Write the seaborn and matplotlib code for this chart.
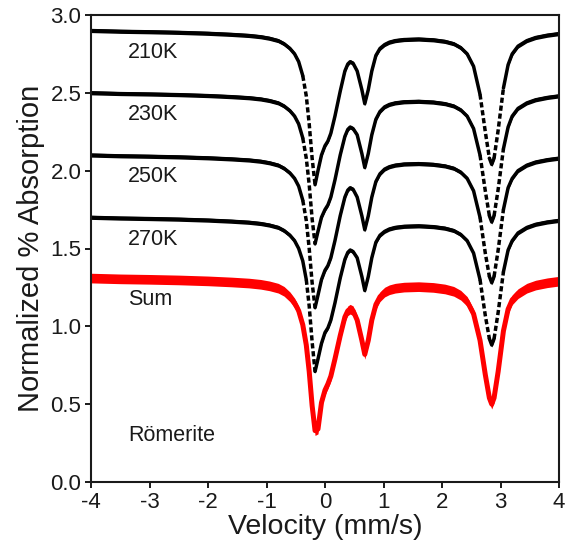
import numpy as np
import pandas as pd
import matplotlib
matplotlib.use("Agg")
import matplotlib.pyplot as plt
import seaborn as sns

# ---------------- data ----------------
velocity = [-4.0, -3.5, -3.0, -2.5, -2.0, -1.6, -1.3, -1.1, -0.95, -0.8,
            -0.7, -0.6, -0.52, -0.45, -0.38, -0.32, -0.27, -0.22, -0.17, -0.12,
            -0.06, 0.0, 0.05, 0.10, 0.17, 0.26, 0.34, 0.39, 0.43, 0.48,
            0.55, 0.63, 0.68, 0.74, 0.80, 0.87, 0.94, 1.02, 1.1, 1.2,
            1.35, 1.6, 1.85, 2.05, 2.2, 2.32, 2.43, 2.54, 2.65, 2.74,
            2.81, 2.85, 2.89, 2.96, 3.05, 3.13, 3.2, 3.3, 3.45, 3.6,
            3.8, 4.0]

series_names = ["210K", "230K", "250K", "270K", "Sum"]
series_offsets = [2.90, 2.50, 2.10, 1.70, 1.31]

depth_210K = [0.0, 0.005, 0.008, 0.012, 0.018, 0.025, 0.032, 0.04, 0.05, 0.065,
              0.085, 0.115, 0.15, 0.20, 0.29, 0.42, 0.60, 0.82, 0.99, 0.90,
              0.80, 0.74, 0.71, 0.66, 0.55, 0.39, 0.26, 0.215, 0.20, 0.21,
              0.26, 0.38, 0.47, 0.38, 0.26, 0.16, 0.115, 0.09, 0.075, 0.065,
              0.058, 0.055, 0.06, 0.07, 0.085, 0.11, 0.15, 0.23, 0.41, 0.65,
              0.82, 0.86, 0.82, 0.64, 0.37, 0.22, 0.15, 0.10, 0.065, 0.045,
              0.03, 0.02]
depth_230K = [0.0, 0.005, 0.008, 0.012, 0.018, 0.025, 0.032, 0.04, 0.05, 0.065,
              0.085, 0.115, 0.15, 0.20, 0.29, 0.42, 0.59, 0.81, 0.97, 0.89,
              0.80, 0.75, 0.72, 0.67, 0.56, 0.40, 0.28, 0.235, 0.22, 0.23,
              0.27, 0.39, 0.48, 0.39, 0.27, 0.17, 0.12, 0.09, 0.075, 0.065,
              0.058, 0.055, 0.06, 0.07, 0.085, 0.11, 0.15, 0.23, 0.40, 0.63,
              0.79, 0.83, 0.79, 0.62, 0.36, 0.22, 0.15, 0.10, 0.065, 0.045,
              0.03, 0.02]
depth_250K = [0.0, 0.005, 0.008, 0.012, 0.018, 0.025, 0.032, 0.04, 0.05, 0.065,
              0.085, 0.115, 0.15, 0.20, 0.29, 0.42, 0.60, 0.82, 0.98, 0.90,
              0.80, 0.74, 0.71, 0.66, 0.55, 0.39, 0.27, 0.225, 0.21, 0.22,
              0.27, 0.39, 0.48, 0.39, 0.27, 0.17, 0.12, 0.09, 0.075, 0.065,
              0.058, 0.055, 0.06, 0.07, 0.085, 0.11, 0.15, 0.23, 0.40, 0.63,
              0.78, 0.82, 0.78, 0.61, 0.35, 0.21, 0.15, 0.10, 0.065, 0.045,
              0.03, 0.02]
depth_270K = [0.0, 0.005, 0.008, 0.012, 0.018, 0.025, 0.032, 0.04, 0.05, 0.065,
              0.085, 0.115, 0.15, 0.20, 0.28, 0.40, 0.57, 0.80, 0.99, 0.91,
              0.81, 0.74, 0.71, 0.66, 0.55, 0.39, 0.27, 0.225, 0.21, 0.22,
              0.26, 0.38, 0.47, 0.38, 0.26, 0.16, 0.115, 0.09, 0.075, 0.065,
              0.058, 0.055, 0.06, 0.07, 0.085, 0.11, 0.15, 0.23, 0.40, 0.63,
              0.78, 0.82, 0.78, 0.61, 0.35, 0.21, 0.15, 0.10, 0.065, 0.045,
              0.03, 0.02]
depth_sum = [0.0, 0.005, 0.008, 0.012, 0.018, 0.025, 0.032, 0.04, 0.05, 0.065,
             0.085, 0.12, 0.16, 0.21, 0.30, 0.43, 0.60, 0.82, 0.98, 0.97,
             0.80, 0.72, 0.68, 0.63, 0.52, 0.37, 0.25, 0.21, 0.20, 0.21,
             0.27, 0.40, 0.49, 0.40, 0.27, 0.17, 0.12, 0.09, 0.075, 0.065,
             0.058, 0.055, 0.06, 0.07, 0.085, 0.11, 0.15, 0.23, 0.40, 0.62,
             0.77, 0.81, 0.77, 0.60, 0.34, 0.20, 0.14, 0.10, 0.065, 0.045,
             0.03, 0.02]
depths = [depth_210K, depth_230K, depth_250K, depth_270K, depth_sum]

sample_label = "Römerite"
x_ticks = [-4, -3, -2, -1, 0, 1, 2, 3, 4]
y_ticks = [0.0, 0.5, 1.0, 1.5, 2.0, 2.5, 3.0]
x_label = "Velocity (mm/s)"
y_label = "Normalized % Absorption"

# ---------------- style ----------------
sns.set_theme(style="ticks")
plt.rcParams["font.family"] = ["Liberation Sans", "DejaVu Sans"]
plt.rcParams["axes.unicode_minus"] = False

W, H = 565, 548
fig = plt.figure(figsize=(W / 100, H / 100), dpi=100)
ax_rect = [91 / W, (H - 482) / H, (559 - 91) / W, (482 - 15) / H]
ax = fig.add_axes(ax_rect)
ax.set_xlim(-4, 4)
ax.set_ylim(0, 3.0)

px_per_x = ax_rect[2] * W / 8.0
px_per_y = ax_rect[3] * H / 3.0
steep_limit = 5.5

colors = ["black", "black", "black", "black", "#ff0000"]
widths = [2.5, 2.5, 2.5, 2.5, 3.6]
bands = [0.013, 0.013, 0.013, 0.013, 0.031]
text_color = "#1a1a1a"

vel = np.asarray(velocity, dtype=float)
for k, (name, off, dep) in enumerate(zip(series_names, series_offsets, depths)):
    y = off - np.asarray(dep, dtype=float)
    is_sum = (name == "Sum")
    slope = np.abs(np.diff(y) * px_per_y) / (np.diff(vel) * px_per_x)
    steep = (slope > steep_limit) & (not is_sum)
    rows = []
    run = 0
    start = 0
    for i in range(1, len(steep) + 1):
        if i == len(steep) or steep[i] != steep[start]:
            style = "dashed" if steep[start] else "solid"
            for j in range(start, i + 1):
                rows.append((vel[j], y[j], run, style))
            if not steep[start]:
                ax.fill_between(vel[start:i + 1], y[start:i + 1] - bands[k],
                                y[start:i + 1] + bands[k], color=colors[k],
                                lw=0, zorder=2 + k * 0.1)
            run += 1
            start = i
    df = pd.DataFrame(rows, columns=["velocity", "absorption", "run", "style"])
    sns.lineplot(data=df, x="velocity", y="absorption", units="run", estimator=None,
                 style="style", dashes={"solid": "", "dashed": (1.5, 0.8)},
                 color=colors[k], lw=widths[k], sort=False, legend=False, ax=ax,
                 zorder=2 + k * 0.1)
    ax.text(-3.37, off - 0.14, name, fontsize=15.5, va="center", ha="left",
            color=text_color)

ax.text(-3.37, 0.30, sample_label, fontsize=15.5, va="center", ha="left",
        color=text_color)

ax.set_xticks(x_ticks)
ax.set_xticklabels([f"{t:d}" for t in x_ticks])
ax.set_yticks(y_ticks)
ax.set_yticklabels([f"{t:.1f}" for t in y_ticks])
ax.set_xlabel(x_label, fontsize=20.5, color=text_color, labelpad=1)
ax.set_ylabel(y_label, fontsize=21, color=text_color, labelpad=4)
ax.tick_params(axis="both", direction="out", length=4, width=1.4, labelsize=16,
               colors=text_color, pad=3)
for sp in ax.spines.values():
    sp.set_visible(True)
    sp.set_linewidth(1.5)
    sp.set_color(text_color)

fig.savefig("out.png", dpi=100)
